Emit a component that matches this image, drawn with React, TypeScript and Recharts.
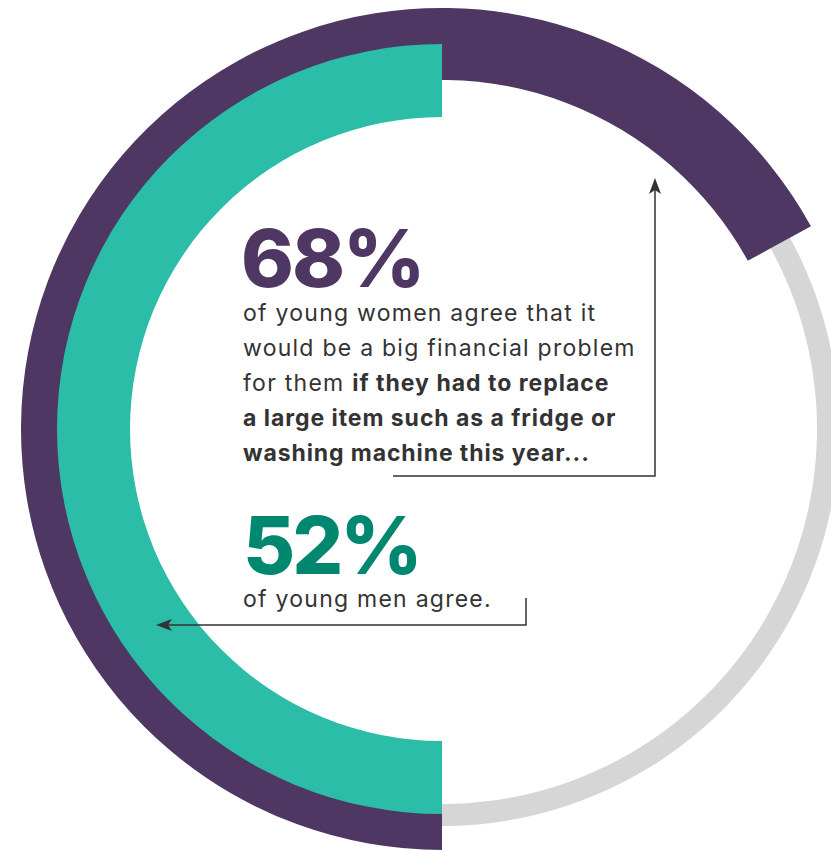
import { PieChart, Pie, Cell } from "recharts";

const ringNames = ["Young women", "Young men"];
// share of the circle each coloured arc covers, as drawn in the graphic
const arcShare = [67, 50];
const bigLabels = ["68%", "52%"];

const womenRing = [
  { name: "agree", value: arcShare[0] },
  { name: "rest", value: 100 - arcShare[0] },
];
const menRing = [
  { name: "agree", value: arcShare[1] },
  { name: "rest", value: 100 - arcShare[1] },
];

const PURPLE = "#4F3763";
const TEAL = "#2BBDA7";
const GREY = "#D6D6D6";
const DARK_TEAL = "#00876F";
const TEXT = "#333333";

const W = 831;
const H = 851;
const CX = 442;
const CY = 429;

const App = () => {
  return (
    <div style={{ position: "relative", width: W, height: H, overflow: "hidden", background: "#fff" }}>
      <style>{"body{margin:0}"}</style>
      <PieChart width={W} height={H} margin={{ top: 0, right: 0, bottom: 0, left: 0 }}>
        {/* thin grey track for the part that is not "agree" */}
        <Pie
          data={womenRing}
          dataKey="value"
          cx={CX}
          cy={CY}
          innerRadius={375}
          outerRadius={397}
          startAngle={-90}
          endAngle={-450}
          stroke="none"
          isAnimationActive={false}
        >
          <Cell fill="transparent" />
          <Cell fill={GREY} />
        </Pie>
        <Pie
          data={womenRing}
          dataKey="value"
          name={ringNames[0]}
          cx={CX}
          cy={CY}
          innerRadius={349}
          outerRadius={421}
          startAngle={-90}
          endAngle={-450}
          stroke="none"
          isAnimationActive={false}
        >
          <Cell fill={PURPLE} />
          <Cell fill="transparent" />
        </Pie>
        <Pie
          data={menRing}
          dataKey="value"
          name={ringNames[1]}
          cx={CX}
          cy={CY}
          innerRadius={312}
          outerRadius={385}
          startAngle={90}
          endAngle={450}
          stroke="none"
          isAnimationActive={false}
        >
          <Cell fill={TEAL} />
          <Cell fill="transparent" />
        </Pie>
      </PieChart>

      <svg
        width={W}
        height={H}
        style={{ position: "absolute", left: 0, top: 0, pointerEvents: "none" }}
      >
        <polyline points="393,476 655,476 655,188" fill="none" stroke={TEXT} strokeWidth={1.5} />
        <polygon points="655,178 649,194 655,190 661,194" fill={TEXT} />
        <polyline points="526,598 526,625 166,625" fill="none" stroke={TEXT} strokeWidth={1.5} />
        <polygon points="156,625 172,619 168,625 172,631" fill={TEXT} />
      </svg>

      <div
        style={{
          position: "absolute",
          left: 241,
          top: 226,
          fontFamily: "Inter, sans-serif",
          fontWeight: 800,
          fontSize: 80,
          letterSpacing: -2,
          color: PURPLE,
          lineHeight: "64px",
        }}
      >
        {bigLabels[0]}
      </div>
      <div
        style={{
          position: "absolute",
          left: 243,
          top: 296,
          fontFamily: "Inter, sans-serif",
          fontSize: 23,
          letterSpacing: 1.25,
          lineHeight: "35px",
          color: TEXT,
          whiteSpace: "nowrap",
        }}
      >
        of young women agree that it
        <br />
        would be a big financial problem
        <br />
        for them <b style={{ letterSpacing: 1 }}>if they had to replace</b>
        <br />
        <b style={{ letterSpacing: 0.95 }}>a large item such as a fridge or</b>
        <br />
        <b style={{ letterSpacing: 0.9 }}>washing machine this year...</b>
      </div>
      <div
        style={{
          position: "absolute",
          left: 243,
          top: 513,
          fontFamily: "Inter, sans-serif",
          fontWeight: 800,
          fontSize: 80,
          letterSpacing: -3,
          color: DARK_TEAL,
          lineHeight: "64px",
        }}
      >
        {bigLabels[1]}
      </div>
      <div
        style={{
          position: "absolute",
          left: 243,
          top: 582,
          fontFamily: "Inter, sans-serif",
          fontSize: 23,
          letterSpacing: 1.25,
          lineHeight: "35px",
          color: TEXT,
          whiteSpace: "nowrap",
        }}
      >
        of young men agree.
      </div>
    </div>
  );
};

export default App;
